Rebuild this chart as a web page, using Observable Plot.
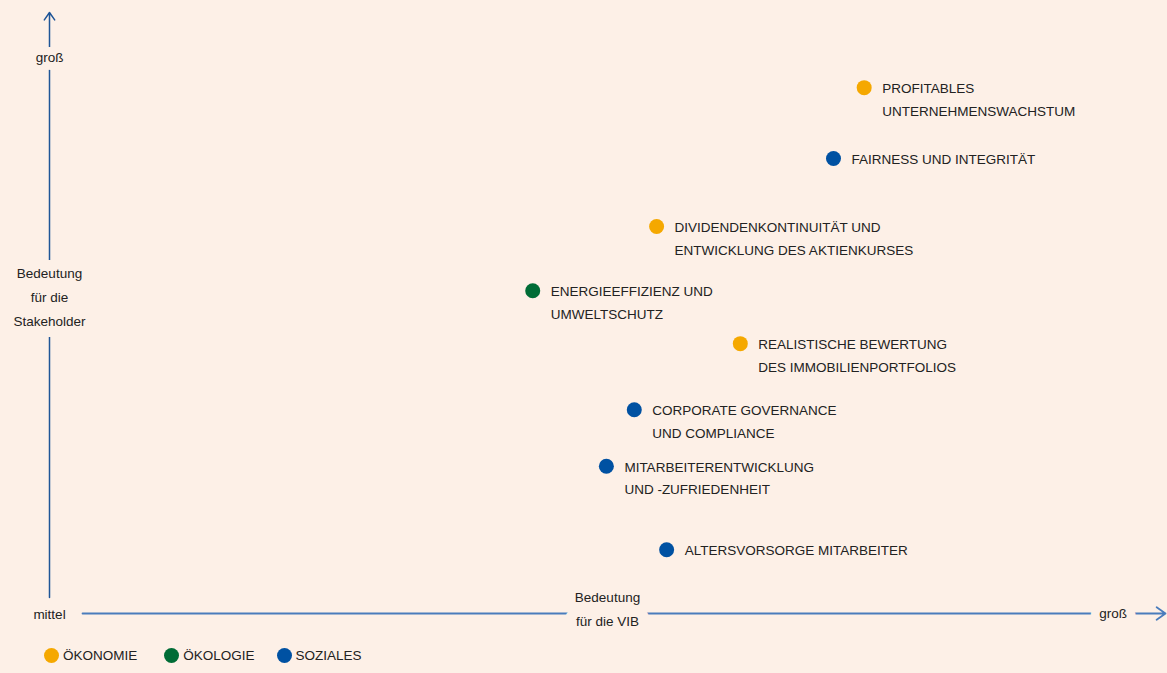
<!DOCTYPE html>
<html>
<head>
<meta charset="utf-8">
<script src="https://cdn.jsdelivr.net/npm/d3@7"></script>
<script src="https://cdn.jsdelivr.net/npm/@observablehq/plot@0.6"></script>
<style>
  html, body { margin: 0; padding: 0; background: #fdf0e7; }
  body { width: 1167px; height: 673px; overflow: hidden; font-family: "Liberation Sans Narrow", "Liberation Sans", sans-serif; color: #222; }
  #legend { display: flex; align-items: center; height: 30px; padding-left: 44px; font-size: 13.5px; }
  .item { display: flex; align-items: center; margin-right: 27px; }
  .item:nth-child(2) { margin-right: 22px; }
  .sw { width: 15px; height: 15px; border-radius: 50%; margin-right: 4px; }
</style>
</head>
<body>
<div id="chart"></div>
<div id="legend"></div>
<script>
// Topics (labels), category, x = importance for VIB, y = importance for stakeholders
const topics = [
  "PROFITABLES\nUNTERNEHMENSWACHSTUM",
  "FAIRNESS UND INTEGRITÄT",
  "DIVIDENDENKONTINUITÄT UND\nENTWICKLUNG DES AKTIENKURSES",
  "ENERGIEEFFIZIENZ UND\nUMWELTSCHUTZ",
  "REALISTISCHE BEWERTUNG\nDES IMMOBILIENPORTFOLIOS",
  "CORPORATE GOVERNANCE\nUND COMPLIANCE",
  "MITARBEITERENTWICKLUNG\nUND -ZUFRIEDENHEIT",
  "ALTERSVORSORGE MITARBEITER"
];
const categories = ["Ökonomie", "Soziales", "Ökonomie", "Ökologie", "Ökonomie", "Soziales", "Soziales", "Soziales"];
const vibImportance = [73.0, 70.25, 54.4, 43.3, 61.9, 52.4, 49.9, 55.3];
const stakeholderImportance = [87.5, 75.7, 64.4, 53.7, 44.9, 33.9, 24.5, 10.6];

const legendCategories = ["Ökonomie", "Ökologie", "Soziales"];
const legendLabels = ["ÖKONOMIE", "ÖKOLOGIE", "SOZIALES"];
const categoryColors = ["#f5a800", "#006c36", "#0051a2"];

const axisLabels = {
  yLow: "mittel",
  yHigh: "groß",
  yTitle: "Bedeutung\nfür die\nStakeholder",
  xHigh: "groß",
  xTitle: "Bedeutung\nfür die VIB"
};

const data = topics.map((t, i) => ({
  topic: t, category: categories[i], x: vibImportance[i], y: stakeholderImportance[i]
}));

const bg = "#fdf0e7";
const yAxisColor = "#1f5597";
const xAxisColor = "#4a7cbc";
const textColor = "#222222";
const font = '"Liberation Sans Narrow", "Liberation Sans", sans-serif';
const fs = 13.5;

const chart = Plot.plot({
  width: 1167,
  height: 640,
  marginLeft: 49,
  marginRight: 2,
  marginTop: 12,
  marginBottom: 27,
  style: { background: bg, fontFamily: font, fontSize: fs + "px", color: textColor },
  x: { domain: [0, 100], axis: null },
  y: { domain: [0, 100], axis: null },
  color: { domain: legendCategories, range: categoryColors },
  marks: [
    // axes as arrows
    Plot.arrow([{ x1: 0, y1: 2.66, x2: 0, y2: 100 }], {
      x1: "x1", y1: "y1", x2: "x2", y2: "y2",
      stroke: yAxisColor, strokeWidth: 1.5, headLength: 9, headAngle: 70
    }),
    Plot.arrow([{ x1: 2.96, y1: 0, x2: 100, y2: 0 }], {
      x1: "x1", y1: "y1", x2: "x2", y2: "y2",
      stroke: xAxisColor, strokeWidth: 1.8, headLength: 9, headAngle: 70
    }),
    // axis labels with background halos that break the axis lines
    Plot.text([axisLabels.yHigh], {
      x: 0, y: 92.5, text: d => d, fill: textColor, fontSize: fs,
      stroke: bg, strokeWidth: 16, paintOrder: "stroke"
    }),
    Plot.text([axisLabels.yTitle], {
      x: 0, y: 52.6, dy: -3, text: d => d, fill: textColor, fontSize: fs, lineHeight: 1.8,
      stroke: bg, strokeWidth: 22, strokeLinejoin: "round", paintOrder: "stroke"
    }),
    Plot.text([axisLabels.yLow], {
      x: 0, y: 0, dy: 1, text: d => d, fill: textColor, fontSize: fs,
      stroke: bg, strokeWidth: 12, paintOrder: "stroke"
    }),
    Plot.text([axisLabels.xTitle], {
      x: 50, y: 0, dy: -7, text: d => d, fill: textColor, fontSize: fs, lineHeight: 1.75,
      stroke: bg, strokeWidth: 22, paintOrder: "stroke"
    }),
    Plot.text([axisLabels.xHigh], {
      x: 95.3, y: 0, text: d => d, fill: textColor, fontSize: fs,
      stroke: bg, strokeWidth: 18, paintOrder: "stroke"
    }),
    // points
    Plot.dot(data, { x: "x", y: "y", r: 7.5, fill: "category", stroke: "none" }),
    Plot.text(data, {
      x: "x", y: "y", text: "topic", dx: 18, dy: -11,
      textAnchor: "start", lineAnchor: "top", lineHeight: 1.7,
      fill: textColor, fontSize: fs
    })
  ]
});

document.getElementById("chart").appendChild(chart);

const legend = document.getElementById("legend");
legendCategories.forEach((c, i) => {
  const item = document.createElement("div");
  item.className = "item";
  const sw = document.createElement("span");
  sw.className = "sw";
  sw.style.background = categoryColors[i];
  const lab = document.createElement("span");
  lab.textContent = legendLabels[i];
  item.appendChild(sw);
  item.appendChild(lab);
  legend.appendChild(item);
});
</script>
</body>
</html>
